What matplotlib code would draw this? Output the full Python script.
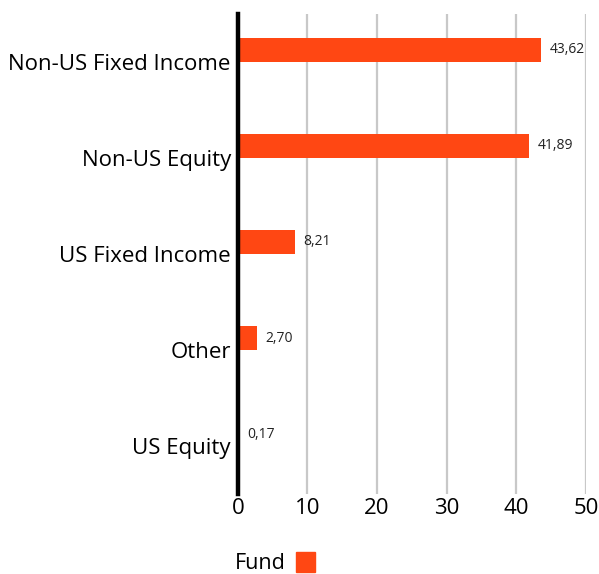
import matplotlib
matplotlib.use("Agg")
import matplotlib.pyplot as plt
import numpy as np

# Fund allocation by asset class (%)
categories = ["Non-US Fixed Income", "Non-US Equity", "US Fixed Income", "Other", "US Equity"]
fund_values = [43.62, 41.89, 8.21, 2.70, 0.17]
x_ticks = [0, 10, 20, 30, 40, 50]

bar_color = "#ff4713"
plt.rcParams["font.family"] = ["Open Sans", "DejaVu Sans"]

fig = plt.figure(figsize=(5.99, 5.74), dpi=100)
ax = fig.add_axes([0.397, 0.139, 0.581, 0.837])

y = np.arange(len(categories))
bars = ax.barh(y - 0.125, fund_values, height=0.25, color=bar_color, zorder=3)

# value labels, comma decimal
for rect, v in zip(bars, fund_values):
    ax.text(rect.get_width() + 1.2, rect.get_y() + rect.get_height() / 2,
            f"{v:.2f}".replace(".", ","), va="center", ha="left", fontsize=10, color="#222222")

ax.set_yticks(y)
ax.set_yticklabels(categories, fontsize=16)
ax.set_ylim(len(categories) - 0.5, -0.5)
ax.set_xlim(0, 50)
ax.set_xticks(x_ticks)
ax.set_xticklabels([str(t) for t in x_ticks], fontsize=16)
ax.tick_params(axis="y", length=0, pad=5)
ax.tick_params(axis="x", length=0, pad=3)

ax.grid(axis="x", color="#c8c8c8", linewidth=1.6, zorder=0)
for s in ["top", "right", "bottom"]:
    ax.spines[s].set_visible(False)
ax.spines["left"].set_linewidth(3.2)
ax.spines["left"].set_color("black")
ax.spines["left"].set_zorder(4)

# legend below the axes
fig.text(0.392, 0.008, "Fund", fontsize=15.5, ha="left", va="baseline")
fig.patches.append(plt.Rectangle((0.494, 0.003), 0.032, 0.035, transform=fig.transFigure,
                                 color=bar_color, figure=fig))

fig.savefig("out.png", dpi=100)
